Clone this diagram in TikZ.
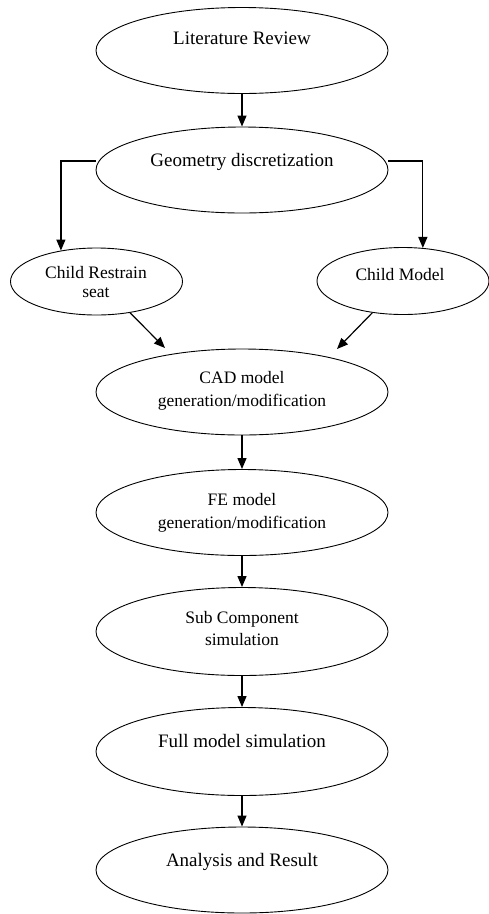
\documentclass[tikz,border=0pt]{standalone}
\usepackage{fontspec}
\setmainfont{Liberation Serif}
\usetikzlibrary{arrows.meta,shapes.geometric}
\begin{document}
\begin{tikzpicture}[x=1pt,y=-1pt,
 ell/.style={draw,ellipse,inner sep=0pt,line width=0.9pt,minimum width=292pt,minimum height=86pt},
 sell/.style={draw,ellipse,inner sep=0pt,line width=0.9pt,minimum width=172pt,minimum height=67pt},
 lbl/.style={anchor=base,inner sep=0pt,font=\fontsize{19}{23}\selectfont},
 slbl/.style={anchor=base,inner sep=0pt,font=\fontsize{17.5}{23}\selectfont},
 arr/.style={line width=1.2pt,-{Triangle[length=11pt,width=9pt]}}]
\useasboundingbox (0,0) rectangle (488,914);
% nodes
\node[ell] (lit) at (242,50.5) {};
\node[lbl] (litT) at (242,44) {Literature Review};
\node[ell] (geo) at (242,170) {};
\node[lbl] (geoT) at (242,166) {Geometry discretization};
\node[sell] (crs) at (96.5,281.5) {};
\node[slbl,font=\fontsize{17.5}{19.5}\selectfont] (crsT) at (96,278) {\begin{tabular}[t]{@{}c@{}}Child Restrain\\seat\end{tabular}};
\node[sell] (cm) at (403,281) {};
\node[slbl] (cmT) at (400,280) {Child Model};
\node[ell] (cad) at (242,392) {};
\node[slbl] (cadT) at (242,383) {\begin{tabular}[t]{@{}c@{}}CAD model\\generation/modification\end{tabular}};
\node[ell] (fe) at (242,512.5) {};
\node[slbl] (feT) at (242,505) {\begin{tabular}[t]{@{}c@{}}FE model\\generation/modification\end{tabular}};
\node[ell,minimum height=88pt] (sub) at (242,631.5) {};
\node[slbl,font=\fontsize{17.5}{22}\selectfont] (subT) at (242,623) {\begin{tabular}[t]{@{}c@{}}Sub Component\\simulation\end{tabular}};
\node[ell,minimum height=88pt] (full) at (242,751.5) {};
\node[lbl] (fullT) at (242,747) {Full model simulation};
\node[ell] (ana) at (242,870) {};
\node[lbl] (anaT) at (242,866) {Analysis and Result};
\coordinate (cadL) at (165,348);
\coordinate (cadR) at (337,349);
% connectors
\draw[arr] (lit.south) -- (geo.north);
\draw[arr] ([yshift=9pt]geo.west) -| (crs.139);
\draw[arr] ([yshift=9pt]geo.east) -| (cm.59);
\draw[arr] (crs.-43) -- (cadL);
\draw[arr] (cm.-134) -- (cadR);
\draw[arr] (cad.south) -- (fe.north);
\draw[arr] (fe.south) -- (sub.north);
\draw[arr] (sub.south) -- (full.north);
\draw[arr] (full.south) -- (ana.north);
\end{tikzpicture}
\end{document}
